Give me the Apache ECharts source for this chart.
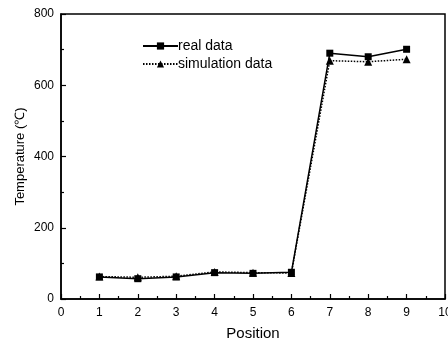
<!DOCTYPE html>
<html><head><meta charset="utf-8">
<script src="https://cdn.jsdelivr.net/npm/echarts@6/dist/echarts.min.js"></script>
<style>html,body{margin:0;padding:0;background:#fff}#c{width:448px;height:341px}</style>
</head><body><div id="c"></div>
<script>
const positions = [1,2,3,4,5,6,7,8,9];
const realData = [62,57,62,74,72,75,690,680,701];
const simData = [63,61,64,76,74,73,669,666,673];
const seriesNames = ['real data','simulation data'];

const chart = echarts.init(document.getElementById('c'));
const font = 'Liberation Sans, Arial, sans-serif';
chart.setOption({
  animation:false,
  grid:{left:61,right:3,top:14,bottom:42,show:true,borderColor:'#000',borderWidth:1.5,outerBoundsMode:'none',containLabel:false},
  legend:{
    orient:'vertical',left:137,top:34,itemGap:4,itemWidth:35,itemHeight:9,
    textStyle:{fontFamily:font,fontSize:14,color:'#000',padding:[0,0,0,-5]},
    data:seriesNames
  },
  xAxis:{
    type:'value',min:0,max:10,interval:1,
    name:'Position',nameLocation:'middle',nameGap:27,nameMoveOverlap:false,
    nameTextStyle:{fontFamily:font,fontSize:15,color:'#000'},
    axisLine:{lineStyle:{color:'#000',width:1.5}},
    axisTick:{inside:true,length:5,lineStyle:{color:'#000',width:1.2}},
    minorTick:{show:true,splitNumber:2,length:3,lineStyle:{color:'#000',width:1.2}},
    axisLabel:{fontFamily:font,fontSize:12,color:'#000',margin:8},
    splitLine:{show:false}
  },
  yAxis:{
    type:'value',min:0,max:800,interval:200,
    name:'Temperature (℃)',nameLocation:'middle',nameGap:34,nameMoveOverlap:false,
    nameTextStyle:{fontFamily:font,fontSize:13,color:'#000'},
    axisLine:{show:true,lineStyle:{color:'#000',width:1.5}},
    axisTick:{show:true,inside:true,length:5,lineStyle:{color:'#000',width:1.2}},
    minorTick:{show:true,splitNumber:2,length:3,lineStyle:{color:'#000',width:1.2}},
    axisLabel:{fontFamily:font,fontSize:12,color:'#000',margin:7},
    splitLine:{show:false}
  },
  series:[
    {name:seriesNames[0],type:'line',data:positions.map((p,i)=>[p,realData[i]]),
     symbol:'rect',symbolSize:7,itemStyle:{color:'#000'},
     lineStyle:{color:'#000',width:1.5,type:'solid'},z:3},
    {name:seriesNames[1],type:'line',data:positions.map((p,i)=>[p,simData[i]]),
     symbol:'triangle',symbolSize:8,itemStyle:{color:'#000'},
     lineStyle:{color:'#000',width:1.5,type:[1.5,1.5]},z:2}
  ]
});
</script></body></html>
